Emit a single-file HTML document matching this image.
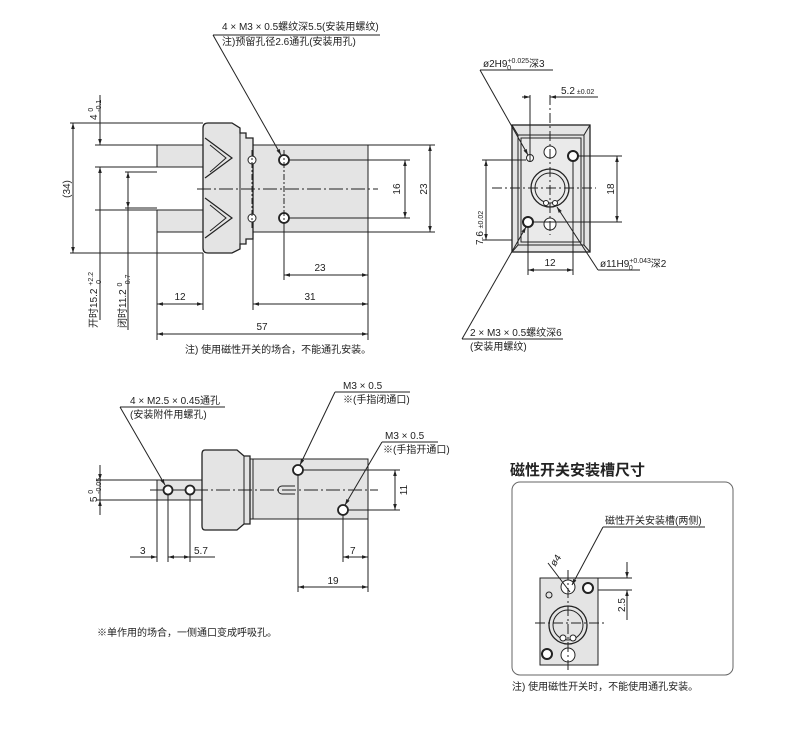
<!DOCTYPE html>
<html><head><meta charset="utf-8"><style>
html,body{margin:0;padding:0;background:#fff}
svg{display:block}
text{font-family:"Liberation Sans","Noto Sans CJK SC",sans-serif;fill:#222}
</style></head><body>
<svg width="800" height="729" viewBox="0 0 800 729" xmlns="http://www.w3.org/2000/svg">
<defs>
<marker id="a" viewBox="0 0 10 10" refX="10" refY="5" markerWidth="6" markerHeight="6" orient="auto-start-reverse"><path d="M0,2 L10,5 L0,8z" fill="#222"/></marker>
</defs>
<g stroke="#222" stroke-width="1" fill="none">
<!-- ===== TOP-LEFT VIEW ===== -->
<rect x="157" y="145" width="46" height="22" fill="#e4e4e4"/>
<rect x="157" y="210" width="46" height="22" fill="#e4e4e4"/>
<rect x="253" y="145" width="115" height="87" fill="#e4e4e4"/>
<path d="M203,128 Q203,123 208,123 L232,123 L240,128 L240,133 L246,133 L246,138 L253,138 L253,239 L246,239 L246,244 L240,244 L240,249 L232,253 L208,253 Q203,253 203,248z" fill="#e4e4e4" stroke-width="1.3"/>
<line x1="240" y1="133" x2="240" y2="244"/>
<path d="M205,138 L232,158 L205,178" stroke-width="1.2"/>
<path d="M210,145 L226,158 L210,172"/>
<path d="M205,198 L232,218 L205,238" stroke-width="1.2"/>
<path d="M210,205 L226,218 L210,231"/>
<circle cx="284" cy="160" r="5" stroke-width="1.8" fill="#fff"/>
<circle cx="284" cy="218" r="5" stroke-width="1.8" fill="#fff"/>
<circle cx="252" cy="160" r="4" fill="#fff"/>
<circle cx="252" cy="218" r="4" fill="#fff"/>
<line x1="197" y1="189" x2="378" y2="189" stroke-dasharray="14,3,2,3"/>
<line x1="252" y1="150" x2="252" y2="228" stroke-dasharray="6,2,2,2"/>
<line x1="284" y1="150" x2="284" y2="228" stroke-dasharray="6,2,2,2"/>
<!-- extension lines -->
<line x1="70" y1="123" x2="203" y2="123"/>
<line x1="70" y1="253" x2="203" y2="253"/>
<line x1="95" y1="145" x2="157" y2="145"/>
<line x1="95" y1="167" x2="157" y2="167"/>
<line x1="95" y1="210" x2="157" y2="210"/>
<line x1="125" y1="172" x2="157" y2="172"/>
<line x1="125" y1="208" x2="157" y2="208"/>
<line x1="368" y1="145" x2="435" y2="145"/>
<line x1="368" y1="232" x2="435" y2="232"/>
<line x1="289" y1="160" x2="410" y2="160"/>
<line x1="289" y1="218" x2="410" y2="218"/>
<line x1="157" y1="232" x2="157" y2="340"/>
<line x1="203" y1="253" x2="203" y2="310"/>
<line x1="253" y1="239" x2="253" y2="310"/>
<line x1="368" y1="232" x2="368" y2="340"/>
<line x1="284" y1="223" x2="284" y2="280"/>
<!-- dims -->
<line x1="73" y1="123" x2="73" y2="253" marker-start="url(#a)" marker-end="url(#a)"/>
<line x1="100" y1="95" x2="100" y2="145" />
<line x1="100" y1="138" x2="100" y2="145" marker-end="url(#a)"/>
<line x1="100" y1="174" x2="100" y2="167" marker-end="url(#a)"/>
<line x1="100" y1="167" x2="100" y2="320"/>
<line x1="128" y1="172" x2="128" y2="330"/>
<line x1="128" y1="190" x2="128" y2="172" marker-end="url(#a)"/>
<line x1="128" y1="190" x2="128" y2="208" marker-end="url(#a)"/>
<line x1="405" y1="160" x2="405" y2="218" marker-start="url(#a)" marker-end="url(#a)"/>
<line x1="430" y1="145" x2="430" y2="232" marker-start="url(#a)" marker-end="url(#a)"/>
<line x1="284" y1="275" x2="368" y2="275" marker-start="url(#a)" marker-end="url(#a)"/>
<line x1="253" y1="304" x2="368" y2="304" marker-start="url(#a)" marker-end="url(#a)"/>
<line x1="157" y1="304" x2="203" y2="304" marker-start="url(#a)" marker-end="url(#a)"/>
<line x1="157" y1="334" x2="368" y2="334" marker-start="url(#a)" marker-end="url(#a)"/>
<!-- leader -->
<line x1="213" y1="35" x2="380" y2="35"/>
<line x1="213" y1="35" x2="281" y2="155" marker-end="url(#a)"/>

<!-- ===== TOP-RIGHT VIEW ===== -->
<rect x="512" y="125" width="78" height="127" fill="#e4e4e4" stroke-width="1.3"/>
<path d="M512,125 L518,135 L584,135 L590,125 M512,252 L518,245 L584,245 L590,252 M518,135 L518,245 M584,135 L584,245"/>
<rect x="521" y="138" width="60" height="104" fill="#eaeaea"/>
<circle cx="550" cy="188" r="19" stroke-width="1.3" fill="#eaeaea"/>
<circle cx="550" cy="188" r="15"/>
<circle cx="546" cy="203" r="2.5" fill="#fff"/>
<circle cx="555" cy="203" r="2.5" fill="#fff"/>
<circle cx="530" cy="158" r="3.5" fill="#fff"/>
<circle cx="550" cy="152" r="6" fill="#fff"/>
<circle cx="550" cy="224" r="6" fill="#fff"/>
<circle cx="573" cy="156" r="5" stroke-width="2" fill="#fff"/>
<circle cx="528" cy="222" r="5" stroke-width="2" fill="#fff"/>
<line x1="492" y1="188" x2="596" y2="188" stroke-dasharray="10,3,2,3"/>
<line x1="550" y1="95" x2="550" y2="235" stroke-dasharray="10,3,2,3"/>
<line x1="530" y1="95" x2="530" y2="162"/>
<line x1="522" y1="97" x2="530" y2="97" marker-end="url(#a)"/>
<line x1="558" y1="97" x2="550" y2="97" marker-end="url(#a)"/>
<line x1="550" y1="97" x2="598" y2="97"/>
<line x1="578" y1="156" x2="622" y2="156"/>
<line x1="533" y1="222" x2="622" y2="222"/>
<line x1="617" y1="156" x2="617" y2="222" marker-start="url(#a)" marker-end="url(#a)"/>
<line x1="482" y1="160" x2="526" y2="160"/>
<line x1="482" y1="240" x2="512" y2="240"/>
<line x1="486" y1="160" x2="486" y2="240" marker-start="url(#a)" marker-end="url(#a)"/>
<line x1="528" y1="227" x2="528" y2="275"/>
<line x1="573" y1="161" x2="573" y2="275"/>
<line x1="528" y1="270" x2="573" y2="270" marker-start="url(#a)" marker-end="url(#a)"/>
<line x1="480" y1="70" x2="553" y2="70"/>
<line x1="480" y1="70" x2="528" y2="155" marker-end="url(#a)"/>
<line x1="598" y1="270" x2="640" y2="270"/>
<line x1="598" y1="270" x2="557" y2="207" marker-end="url(#a)"/>
<line x1="462" y1="339" x2="563" y2="339"/>
<line x1="462" y1="339" x2="526" y2="227" marker-end="url(#a)"/>

<!-- ===== BOTTOM-LEFT VIEW ===== -->
<rect x="157" y="480" width="46" height="20" fill="#e4e4e4"/>
<rect x="250" y="459" width="118" height="60" fill="#e4e4e4"/>
<path d="M205,450 L237,450 L244,456 L250,456 L250,524 L244,524 L237,530 L205,530 Q202,530 202,526 L202,454 Q202,450 205,450z" fill="#e4e4e4" stroke-width="1.3"/>
<line x1="244" y1="456" x2="244" y2="524"/>
<line x1="253" y1="459" x2="253" y2="519"/>
<path d="M295,486 L282,486 A4,4 0 0 0 282,494 L295,494"/>
<line x1="150" y1="490" x2="378" y2="490" stroke-dasharray="14,3,2,3"/>
<circle cx="168" cy="490" r="4.5" stroke-width="1.8" fill="#fff"/>
<circle cx="190" cy="490" r="4.5" stroke-width="1.8" fill="#fff"/>
<circle cx="298" cy="470" r="5" stroke-width="1.8" fill="#fff"/>
<circle cx="343" cy="510" r="5" stroke-width="1.8" fill="#fff"/>
<line x1="96" y1="480" x2="157" y2="480"/>
<line x1="96" y1="500" x2="157" y2="500"/>
<line x1="100" y1="465" x2="100" y2="480" marker-end="url(#a)"/>
<line x1="100" y1="515" x2="100" y2="500" marker-end="url(#a)"/>
<line x1="100" y1="480" x2="100" y2="500"/>
<line x1="303" y1="470" x2="400" y2="470"/>
<line x1="348" y1="510" x2="400" y2="510"/>
<line x1="395" y1="470" x2="395" y2="510" marker-start="url(#a)" marker-end="url(#a)"/>
<line x1="157" y1="500" x2="157" y2="562"/>
<line x1="168" y1="495" x2="168" y2="562"/>
<line x1="190" y1="495" x2="190" y2="562"/>
<line x1="130" y1="557" x2="157" y2="557" marker-end="url(#a)"/>
<line x1="168" y1="557" x2="190" y2="557" marker-start="url(#a)" marker-end="url(#a)"/>
<line x1="190" y1="557" x2="215" y2="557"/>
<line x1="298" y1="475" x2="298" y2="592"/>
<line x1="343" y1="515" x2="343" y2="562"/>
<line x1="368" y1="519" x2="368" y2="592"/>
<line x1="343" y1="557" x2="368" y2="557" marker-start="url(#a)" marker-end="url(#a)"/>
<line x1="298" y1="587" x2="368" y2="587" marker-start="url(#a)" marker-end="url(#a)"/>
<line x1="120" y1="407" x2="225" y2="407"/>
<line x1="120" y1="407" x2="165" y2="485" marker-end="url(#a)"/>
<line x1="335" y1="392" x2="410" y2="392"/>
<line x1="335" y1="392" x2="300" y2="465" marker-end="url(#a)"/>
<line x1="382" y1="442" x2="438" y2="442"/>
<line x1="382" y1="442" x2="345" y2="505" marker-end="url(#a)"/>

<!-- ===== BOTTOM-RIGHT ===== -->
<rect x="512" y="482" width="221" height="193" rx="8" stroke="#666"/>
<rect x="540" y="578" width="58" height="87" fill="#e4e4e4"/>
<circle cx="568" cy="625" r="19" stroke-width="1.3"/>
<circle cx="568" cy="625" r="15"/>
<circle cx="563" cy="638" r="3" fill="#fff"/>
<circle cx="573" cy="638" r="3" fill="#fff"/>
<circle cx="568" cy="587" r="7" fill="#fff"/>
<circle cx="568" cy="655" r="7" fill="#fff"/>
<circle cx="588" cy="588" r="5" stroke-width="2" fill="#fff"/>
<circle cx="547" cy="654" r="5" stroke-width="2" fill="#fff"/>
<circle cx="549" cy="595" r="3"/>
<line x1="535" y1="623" x2="605" y2="623" stroke-dasharray="10,3,2,3"/>
<line x1="568" y1="570" x2="568" y2="670" stroke-dasharray="10,3,2,3"/>
<line x1="598" y1="578" x2="632" y2="578"/>
<line x1="598" y1="590" x2="632" y2="590"/>
<line x1="627" y1="562" x2="627" y2="578" marker-end="url(#a)"/>
<line x1="627" y1="620" x2="627" y2="590" marker-end="url(#a)"/>
<line x1="603" y1="527" x2="705" y2="527"/>
<line x1="603" y1="527" x2="572" y2="585" marker-end="url(#a)"/>
<line x1="548" y1="563" x2="570" y2="592"/>
</g>
<g font-size="10">
<text x="222" y="30">4 × M3 × 0.5螺纹深5.5(安装用螺纹)</text>
<text x="222" y="45">注)预留孔径2.6通孔(安装用孔)</text>
<text x="320" y="271" text-anchor="middle">23</text>
<text x="310" y="300" text-anchor="middle">31</text>
<text x="180" y="300" text-anchor="middle">12</text>
<text x="262" y="330" text-anchor="middle">57</text>
<text x="185" y="353">注) 使用磁性开关的场合，不能通孔安装。</text>
<text transform="translate(400,189) rotate(-90)" text-anchor="middle">16</text>
<text transform="translate(427,189) rotate(-90)" text-anchor="middle">23</text>
<text transform="translate(70,189) rotate(-90)" text-anchor="middle">(34)</text>
<text transform="translate(97,120) rotate(-90)">4 <tspan font-size="7" dy="-4">0</tspan><tspan font-size="7" dx="-4" dy="8">-0.1</tspan></text>
<text transform="translate(97,328) rotate(-90)">开时15.2 <tspan font-size="7" dy="-4">+2.2</tspan><tspan font-size="7" dx="-12" dy="8">0</tspan></text>
<text transform="translate(126,328) rotate(-90)">闭时11.2 <tspan font-size="7" dy="-4">0</tspan><tspan font-size="7" dx="-4" dy="8">-0.7</tspan></text>

<text x="483" y="67">ø2H9<tspan font-size="7" dy="-4">+0.025</tspan><tspan font-size="7" dx="-22" dy="7">0</tspan><tspan dx="18" dy="-3">深3</tspan></text>
<text x="561" y="94">5.2<tspan font-size="7"> ±0.02</tspan></text>
<text transform="translate(614,189) rotate(-90)" text-anchor="middle">18</text>
<text transform="translate(483,245) rotate(-90)">7.6 <tspan font-size="7">±0.02</tspan></text>
<text x="550" y="266" text-anchor="middle">12</text>
<text x="600" y="267">ø11H9<tspan font-size="7" dy="-4">+0.043</tspan><tspan font-size="7" dx="-22" dy="7">0</tspan><tspan dx="18" dy="-3">深2</tspan></text>
<text x="470" y="336">2 × M3 × 0.5螺纹深6</text>
<text x="470" y="350">(安装用螺纹)</text>

<text x="130" y="404">4 × M2.5 × 0.45通孔</text>
<text x="130" y="418">(安装附件用螺孔)</text>
<text x="343" y="389">M3 × 0.5</text>
<text x="343" y="403">※(手指闭通口)</text>
<text x="385" y="439">M3 × 0.5</text>
<text x="383" y="453">※(手指开通口)</text>
<text transform="translate(97,490) rotate(-90)" text-anchor="middle">5 <tspan font-size="7" dy="-4">0</tspan><tspan font-size="7" dx="-4" dy="8">-0.05</tspan></text>
<text transform="translate(407,490) rotate(-90)" text-anchor="middle">11</text>
<text x="140" y="554">3</text>
<text x="194" y="554">5.7</text>
<text x="350" y="554">7</text>
<text x="333" y="584" text-anchor="middle">19</text>
<text x="97" y="636">※单作用的场合，一侧通口变成呼吸孔。</text>

<text x="510" y="475" font-size="15" font-weight="bold">磁性开关安装槽尺寸</text>
<text x="605" y="524">磁性开关安装槽(两侧)</text>
<text transform="translate(555,567) rotate(-55)">ø4</text>
<text transform="translate(625,605) rotate(-90)" text-anchor="middle">2.5</text>
<text x="512" y="690">注) 使用磁性开关时，不能使用通孔安装。</text>
</g>
</svg>
</body></html>
